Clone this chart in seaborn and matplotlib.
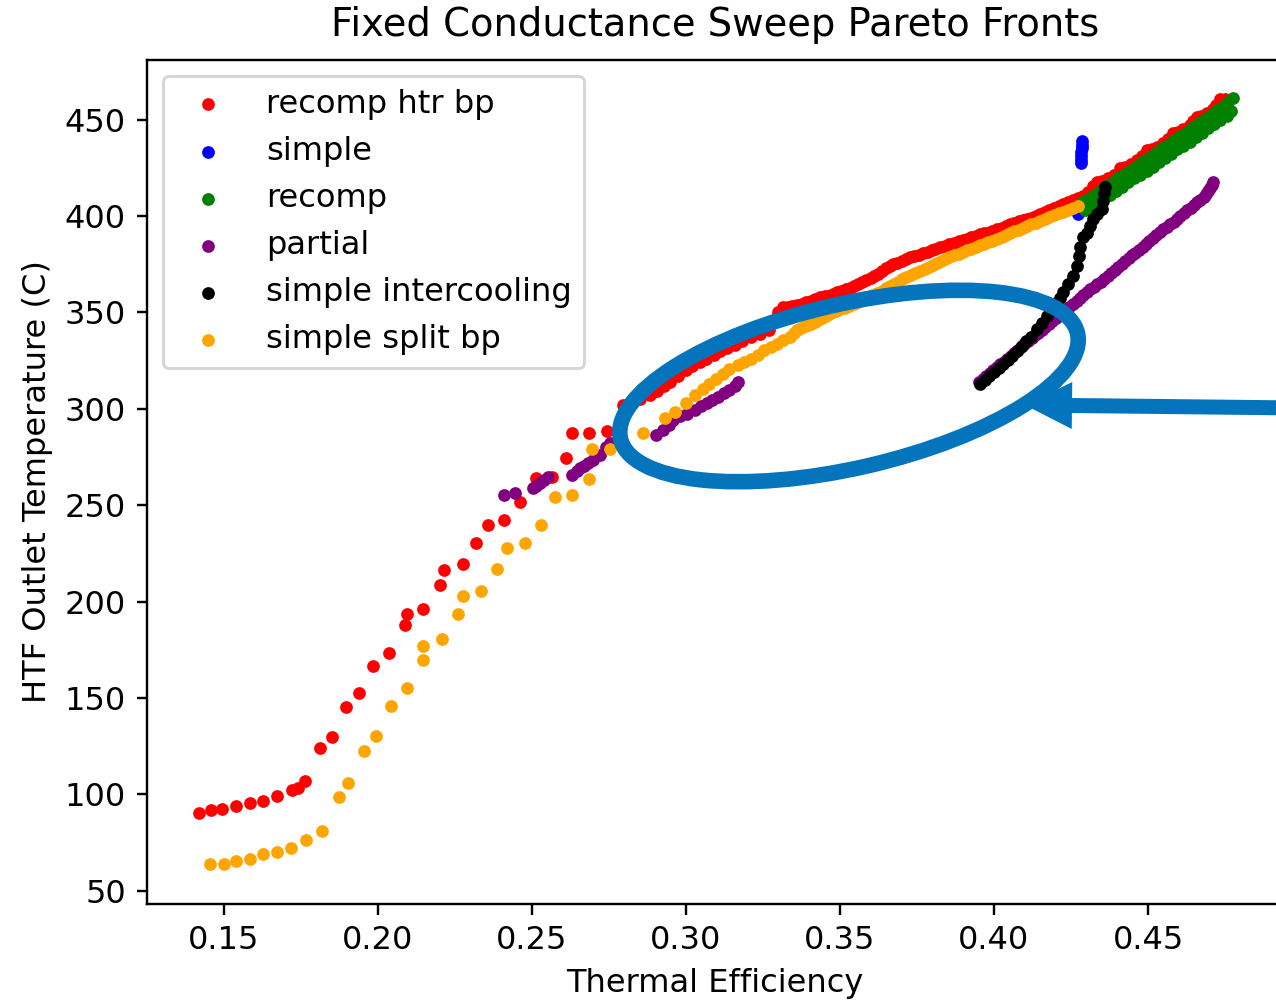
"""
Fixed conductance sweep: pareto fronts of each cycle layout
"""

import matplotlib
matplotlib.use("Agg")
import matplotlib.pyplot as plt
import matplotlib.patches as mpatches
import matplotlib.transforms as mtransforms
import pandas as pd
import seaborn as sns

# ---- data (thermal efficiency, HTF outlet temp in C) ----
recomp_htr_bp_eff = [
    0.1419, 0.1458, 0.1494, 0.1539, 0.1584, 0.1628, 0.1673, 0.1720, 0.1741, 0.1763,
    0.1814, 0.1852, 0.1896, 0.1939, 0.1985, 0.2037, 0.2089, 0.2096, 0.2148, 0.2201,
    0.2215, 0.2275, 0.2320, 0.2357, 0.2410, 0.2461, 0.2513, 0.2567, 0.2610, 0.2632,
    0.2686, 0.2744, 0.2797, 0.2825, 0.2850, 0.2882, 0.2905, 0.2930, 0.2950, 0.2975,
    0.3000, 0.3020, 0.3045, 0.3065, 0.3090, 0.3110, 0.3135, 0.3160, 0.3182, 0.3210,
    0.3239, 0.3270,
    0.3300, 0.3315, 0.3330, 0.3345, 0.3360, 0.3378, 0.3390, 0.3405, 0.3420, 0.3435,
    0.3450, 0.3462, 0.3476, 0.3490, 0.3505, 0.3520, 0.3532, 0.3545, 0.3558, 0.3570,
    0.3585, 0.3600, 0.3612, 0.3625, 0.3638, 0.3650, 0.3661, 0.3672, 0.3686, 0.3700,
    0.3714, 0.3727, 0.3741, 0.3755, 0.3770, 0.3785, 0.3798, 0.3810, 0.3825, 0.3840,
    0.3855, 0.3870, 0.3885, 0.3900, 0.3912, 0.3925, 0.3940, 0.3955, 0.3968, 0.3980,
    0.3995, 0.4010, 0.4025, 0.4040, 0.4052, 0.4065, 0.4080, 0.4095, 0.4108, 0.4120,
    0.4135, 0.4150, 0.4165, 0.4180, 0.4195, 0.4210, 0.4225, 0.4240, 0.4257, 0.4274,
    0.4290, 0.4305, 0.4320, 0.4333, 0.4350, 0.4370, 0.4390, 0.4409, 0.4425, 0.4445,
    0.4465, 0.4480, 0.4496, 0.4512, 0.4530, 0.4550, 0.4566, 0.4582, 0.4598, 0.4615,
    0.4635, 0.4645, 0.4658, 0.4672, 0.4690, 0.4710, 0.4722, 0.4734, 0.4750,
]
recomp_htr_bp_temp = [
    90.4, 91.7, 92.5, 93.9, 95.3, 96.3, 98.9, 102.0, 103.4, 106.8,
    123.9, 129.6, 145.1, 152.3, 166.3, 173.4, 187.6, 193.7, 195.9, 208.8,
    216.1, 219.6, 230.4, 239.8, 242.1, 251.4, 264.0, 264.5, 274.3, 287.2,
    287.2, 288.4, 301.8, 303.5, 305.0, 307.0, 309.0, 312.0, 314.0, 317.0,
    320.0, 322.0, 324.5, 326.0, 328.0, 330.0, 331.5, 333.0, 335.0, 337.0,
    339.0, 341.0,
    350.0, 352.7, 353.0, 353.5, 354.0, 354.4, 355.2, 356.0, 357.0, 357.8,
    358.3, 358.7, 359.6, 360.5, 361.2, 362.0, 362.8, 363.5, 364.5, 365.5,
    366.8, 368.0, 369.0, 370.0, 371.5, 373.0, 374.0, 375.0, 375.8, 376.5,
    377.5, 378.5, 379.2, 380.0, 380.8, 381.5, 382.2, 383.0, 383.8, 384.6,
    385.3, 386.0, 386.8, 387.5, 388.2, 389.0, 389.8, 390.5, 391.0, 391.4,
    392.2, 393.0, 394.0, 395.0, 395.8, 396.5, 397.2, 398.0, 398.6, 399.2,
    400.1, 401.0, 402.0, 403.0, 404.0, 405.0, 406.0, 407.0, 408.2, 409.5,
    410.5, 412.5, 415.5, 417.5, 418.0, 419.5, 421.5, 425.0, 425.5, 427.0,
    429.0, 431.0, 434.0, 434.5, 436.0, 438.0, 440.0, 443.0, 443.5, 445.0,
    447.0, 449.0, 451.5, 452.0, 453.5, 455.5, 457.5, 460.5, 460.5,
]

simple_eff = [0.4286, 0.4287, 0.4285, 0.4284, 0.4283, 0.4282, 0.4281, 0.4274, 0.4276]
simple_temp = [439.0, 437.0, 435.0, 433.0, 431.0, 429.0, 427.5, 401.0, 403.0]

recomp_eff = [
    0.4285, 0.4305, 0.4325, 0.4345, 0.4365, 0.4385, 0.4405, 0.4425, 0.4445, 0.4465,
    0.4485, 0.4505, 0.4525, 0.4545, 0.4565, 0.4585, 0.4605, 0.4625, 0.4645, 0.4665,
    0.4685, 0.4705, 0.4725, 0.4745, 0.4760, 0.4775,
    0.4295, 0.4315, 0.4335, 0.4355, 0.4375, 0.4395, 0.4415, 0.4435, 0.4455, 0.4475,
    0.4495, 0.4515, 0.4535, 0.4555, 0.4575, 0.4595, 0.4615, 0.4635, 0.4655, 0.4675,
    0.4695, 0.4715, 0.4735, 0.4755, 0.4770,
]
recomp_temp = [
    407.0, 409.0, 411.0, 413.0, 415.5, 417.5, 420.0, 422.0, 424.0, 426.0,
    428.5, 430.5, 432.5, 435.0, 437.0, 439.5, 441.5, 443.5, 446.0, 448.0,
    450.5, 452.5, 455.0, 457.0, 459.0, 461.0,
    403.0, 405.0, 407.0, 409.0, 411.0, 413.0, 415.0, 417.5, 419.5, 421.5,
    423.5, 425.5, 428.0, 430.0, 432.0, 434.5, 436.5, 438.5, 441.0, 443.0,
    445.5, 447.5, 450.0, 452.0, 454.5,
]

partial_eff = [
    0.2410, 0.2447, 0.2504, 0.2515, 0.2526, 0.2540, 0.2553, 0.2632, 0.2645, 0.2656,
    0.2670, 0.2683, 0.2700, 0.2722, 0.2742, 0.2753,
    0.2903, 0.2925, 0.2945, 0.2958, 0.2980, 0.3005, 0.3029, 0.3050, 0.3068, 0.3085,
    0.3105, 0.3125, 0.3141, 0.3158, 0.3169,
    0.3952, 0.3963, 0.3975, 0.3987, 0.3998, 0.4009, 0.4020, 0.4032, 0.4043, 0.4054,
    0.4065, 0.4077, 0.4088, 0.4099, 0.4110, 0.4122, 0.4133, 0.4144, 0.4155, 0.4167,
    0.4178, 0.4189, 0.4200, 0.4212, 0.4223, 0.4234, 0.4245, 0.4257, 0.4268, 0.4279,
    0.4290, 0.4302, 0.4313, 0.4324, 0.4335, 0.4347, 0.4358, 0.4369, 0.4380, 0.4392,
    0.4403, 0.4414, 0.4425, 0.4437, 0.4448, 0.4459, 0.4470, 0.4482, 0.4493, 0.4504,
    0.4515, 0.4527, 0.4538, 0.4549, 0.4560, 0.4572, 0.4583, 0.4594, 0.4605, 0.4617,
    0.4628, 0.4639, 0.4650, 0.4660, 0.4670, 0.4680, 0.4688, 0.4695, 0.4700, 0.4706,
    0.4710,
]
partial_temp = [
    255.3, 256.2, 258.8, 260.0, 261.4, 263.0, 264.8, 265.7, 267.5, 269.1,
    270.5, 271.7, 273.5, 276.0, 280.4, 282.0,
    286.3, 289.0, 291.5, 294.1, 296.0, 297.5, 299.3, 301.5, 303.0, 304.4,
    306.0, 308.0, 309.6, 312.0, 313.9,
    313.9, 315.5, 317.0, 318.5, 320.0, 321.5, 323.0, 324.5, 326.0, 327.5,
    329.0, 330.5, 332.0, 333.5, 335.0, 336.5, 338.0, 339.5, 341.0, 342.5,
    344.0, 345.5, 347.0, 348.5, 350.0, 351.5, 353.0, 354.5, 356.0, 357.5,
    359.0, 360.5, 362.0, 363.2, 364.5, 366.0, 367.5, 369.0, 370.5, 372.0,
    373.5, 375.0, 376.5, 378.0, 379.5, 381.0, 382.5, 384.0, 385.5, 387.0,
    388.5, 390.0, 391.5, 393.0, 394.5, 395.8, 397.0, 398.5, 400.0, 401.5,
    403.0, 404.2, 405.5, 407.0, 408.5, 410.0, 411.5, 413.0, 414.5, 416.0,
    417.5,
]

intercooling_eff = [
    0.3955, 0.3970, 0.3985, 0.4000, 0.4015, 0.4030, 0.4045, 0.4060, 0.4075, 0.4090,
    0.4105, 0.4120, 0.4139, 0.4155, 0.4171, 0.4185, 0.4200, 0.4213, 0.4225, 0.4240,
    0.4258, 0.4268, 0.4275, 0.4280, 0.4290, 0.4301, 0.4312, 0.4322, 0.4335, 0.4350,
    0.4353, 0.4356, 0.4360,
]
intercooling_temp = [
    313.0, 315.0, 317.0, 319.0, 321.0, 323.0, 325.5, 327.5, 330.0, 332.5,
    335.0, 337.0, 341.4, 344.5, 348.3, 351.5, 355.0, 357.5, 360.4, 364.5,
    369.0, 374.0, 379.0, 384.0, 389.0, 391.4, 395.0, 398.3, 401.0, 403.5,
    408.0, 412.0, 415.0,
]

split_bp_eff = [
    0.1457, 0.1501, 0.1539, 0.1584, 0.1628, 0.1673, 0.1718, 0.1768, 0.1820, 0.1873,
    0.1904, 0.1956, 0.1993, 0.2044, 0.2096, 0.2148, 0.2148, 0.2209, 0.2261, 0.2275,
    0.2334, 0.2387, 0.2418, 0.2477, 0.2529, 0.2574, 0.2632, 0.2686, 0.2694, 0.2753,
    0.2860, 0.2931, 0.2965, 0.3000, 0.3030, 0.3056, 0.3075, 0.3098, 0.3120, 0.3141,
    0.3169, 0.3190, 0.3211, 0.3233, 0.3253, 0.3275, 0.3295, 0.3315,
    0.3337, 0.3350, 0.3360, 0.3372, 0.3385, 0.3395, 0.3406, 0.3418, 0.3430, 0.3442,
    0.3455, 0.3466, 0.3477, 0.3488, 0.3500, 0.3515, 0.3530, 0.3545, 0.3560, 0.3575,
    0.3590, 0.3605, 0.3620, 0.3635, 0.3650, 0.3662, 0.3675, 0.3688, 0.3700, 0.3715,
    0.3730, 0.3745, 0.3760, 0.3775, 0.3790, 0.3802, 0.3815, 0.3828, 0.3840, 0.3855,
    0.3870, 0.3885, 0.3900, 0.3912, 0.3925, 0.3940, 0.3955, 0.3968, 0.3980, 0.3995,
    0.4010, 0.4025, 0.4040, 0.4052, 0.4065, 0.4080, 0.4095, 0.4108, 0.4120, 0.4135,
    0.4150, 0.4165, 0.4180, 0.4195, 0.4210, 0.4225, 0.4240, 0.4257, 0.4273,
]
split_bp_temp = [
    64.1, 64.1, 65.5, 66.7, 69.0, 70.2, 72.4, 76.2, 81.0, 98.6,
    105.8, 122.4, 130.5, 146.0, 155.4, 169.7, 176.9, 180.4, 193.3, 202.8,
    205.4, 217.1, 227.8, 230.4, 239.8, 254.1, 255.0, 263.6, 279.1, 279.1,
    287.2, 295.0, 298.4, 303.0, 307.0, 310.5, 313.0, 315.6, 318.0, 320.8,
    322.5, 324.0, 326.0, 328.0, 330.3, 332.0, 333.7, 335.5,
    337.2, 339.5, 341.0, 342.0, 343.0, 343.6, 344.1, 345.0, 346.0, 347.0,
    348.0, 349.0, 350.1, 350.8, 351.5, 352.5, 353.5, 354.4, 355.3, 356.4,
    357.5, 358.8, 360.0, 361.2, 362.5, 363.5, 364.5, 365.9, 367.3, 368.4,
    369.5, 370.5, 371.5, 372.5, 373.5, 374.5, 375.5, 376.5, 377.6, 378.5,
    379.5, 380.5, 381.5, 382.2, 383.0, 384.0, 385.0, 385.6, 386.3, 387.1,
    388.0, 389.0, 390.0, 391.0, 392.0, 392.9, 393.8, 394.8, 395.7, 396.6,
    397.5, 398.5, 399.5, 400.5, 401.5, 402.2, 403.0, 404.1, 405.2,
]

labels = ["recomp htr bp", "simple", "recomp", "partial", "simple intercooling", "simple split bp"]
colors = ["red", "blue", "green", "purple", "black", "orange"]

series = [
    (recomp_htr_bp_eff, recomp_htr_bp_temp),
    (simple_eff, simple_temp),
    (recomp_eff, recomp_temp),
    (partial_eff, partial_temp),
    (intercooling_eff, intercooling_temp),
    (split_bp_eff, split_bp_temp),
]

plt.rcParams["font.size"] = 10.7
plt.rcParams["axes.titlesize"] = 12.85

W, H, DPI = 1276, 1001, 216
fig = plt.figure(figsize=(W / DPI, H / DPI), dpi=DPI)
# axes are wider than the canvas on the right, like the cropped original
ax = fig.add_axes([147 / W, 97 / H, 1136 / W, 844 / H])

for (eff, temp), lab, col in zip(series, labels, colors):
    df = pd.DataFrame({"eff": eff, "temp": temp})
    sns.scatterplot(data=df, x="eff", y="temp", color=col, s=18, marker="o",
                    linewidth=0, label=lab, ax=ax, legend=False)

ax.set_xlim(0.1251, 0.4938)
ax.set_ylim(43.1, 480.9)
ax.set_xlabel("Thermal Efficiency")
ax.set_ylabel("HTF Outlet Temperature (C)")
ax.set_title("Fixed Conductance Sweep Pareto Fronts", pad=8)
ax.legend(loc="upper left")

# hand-drawn style callout: ellipse + arrow, in pixel coords
blue = "#0474BC"
px = mtransforms.IdentityTransform()
ell = mpatches.Ellipse((849, H - 386), 469, 164, angle=13, fill=False,
                       edgecolor=blue, linewidth=5.2, transform=px)
fig.add_artist(ell)
arr = mpatches.FancyArrow(1300, H - 408, -275, 3, width=15, head_width=47,
                          head_length=47, length_includes_head=True,
                          color=blue, linewidth=0, transform=px)
fig.add_artist(arr)

fig.savefig("out.png", dpi=DPI)
